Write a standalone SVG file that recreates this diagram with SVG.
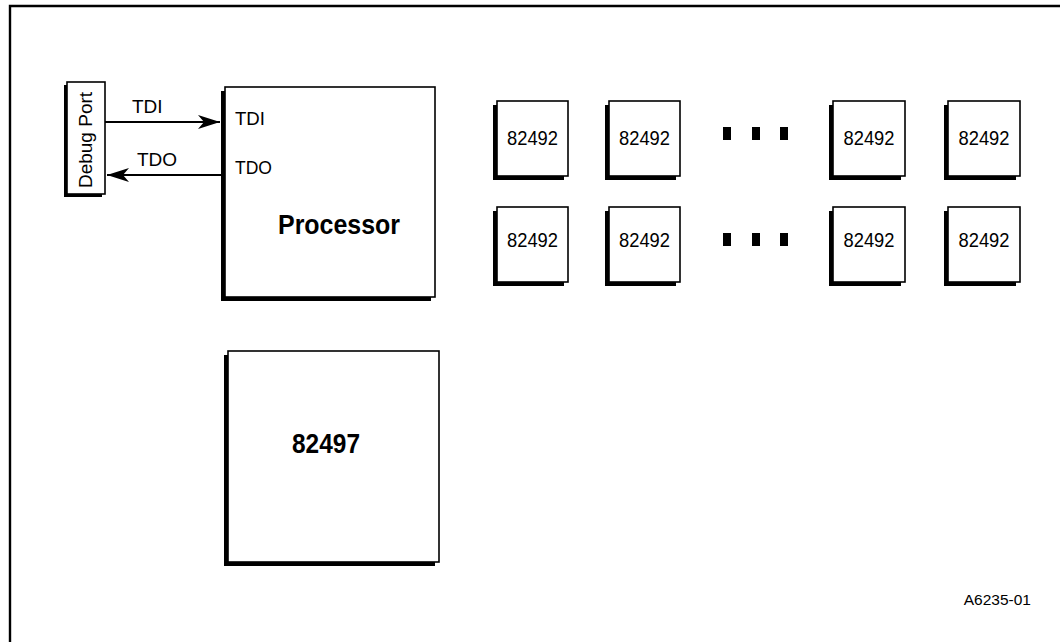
<svg xmlns="http://www.w3.org/2000/svg" width="1060" height="642" viewBox="0 0 1060 642">
<style>
  text { font-family: "Liberation Sans", Arial, sans-serif; fill: #000; }
  .box { fill: #fff; stroke: #000; stroke-width: 1.6; }
  .shadow { fill: #000; }
  .lbl { font-size: 19px; }
  .chip { font-size: 19.5px; text-anchor: middle; }
  .big { font-size: 27px; font-weight: bold; text-anchor: middle; }
  .wire { stroke: #000; stroke-width: 2; fill: none; }
  .dot { fill: #000; }
</style>
<defs>
  <marker id="arr" markerUnits="userSpaceOnUse" markerWidth="24" markerHeight="14" refX="22" refY="7" orient="auto">
    <path d="M0,0 L22,7 L0,14 L6,7 z" fill="#000"/>
  </marker>
</defs>
<path d="M10,642 V6 H1060" fill="none" stroke="#000" stroke-width="2.4"/>

<g id="debug-port">
  <rect class="shadow" x="64" y="85" width="38" height="112"/>
  <rect class="box" x="67" y="82" width="38" height="112"/>
  <text class="lbl" transform="translate(91.5,140) rotate(-90)" text-anchor="middle">Debug Port</text>
</g>

<g id="processor">
  <rect class="shadow" x="221" y="91" width="210" height="210"/>
  <rect class="box" x="225" y="87" width="210" height="210"/>
  <text class="lbl" x="235" y="125" textLength="30" lengthAdjust="spacingAndGlyphs">TDI</text>
  <text class="lbl" x="235" y="174" textLength="37" lengthAdjust="spacingAndGlyphs">TDO</text>
  <text class="big" x="339" y="234" textLength="122" lengthAdjust="spacingAndGlyphs">Processor</text>
</g>

<g id="chip-82497">
  <rect class="shadow" x="224" y="355" width="211" height="211"/>
  <rect class="box" x="228" y="351" width="211" height="211"/>
  <text class="big" x="326" y="453" font-size="26" textLength="68" lengthAdjust="spacingAndGlyphs">82497</text>
</g>

<g id="chip-r1c1">
  <rect class="shadow" x="493" y="105" width="71" height="75"/>
  <rect class="box" x="497" y="101" width="71" height="75"/>
  <text class="chip" x="532.5" y="145" textLength="51" lengthAdjust="spacingAndGlyphs">82492</text>
</g>
<g id="chip-r1c2">
  <rect class="shadow" x="605" y="105" width="71" height="75"/>
  <rect class="box" x="609" y="101" width="71" height="75"/>
  <text class="chip" x="644.5" y="145" textLength="51" lengthAdjust="spacingAndGlyphs">82492</text>
</g>
<g id="chip-r1c3">
  <rect class="shadow" x="829" y="105" width="72" height="75"/>
  <rect class="box" x="833" y="101" width="72" height="75"/>
  <text class="chip" x="869" y="145" textLength="51" lengthAdjust="spacingAndGlyphs">82492</text>
</g>
<g id="chip-r1c4">
  <rect class="shadow" x="944" y="105" width="72" height="75"/>
  <rect class="box" x="948" y="101" width="72" height="75"/>
  <text class="chip" x="984" y="145" textLength="51" lengthAdjust="spacingAndGlyphs">82492</text>
</g>
<g id="chip-r2c1">
  <rect class="shadow" x="493" y="211" width="71" height="75"/>
  <rect class="box" x="497" y="207" width="71" height="75"/>
  <text class="chip" x="532.5" y="247" textLength="51" lengthAdjust="spacingAndGlyphs">82492</text>
</g>
<g id="chip-r2c2">
  <rect class="shadow" x="605" y="211" width="71" height="75"/>
  <rect class="box" x="609" y="207" width="71" height="75"/>
  <text class="chip" x="644.5" y="247" textLength="51" lengthAdjust="spacingAndGlyphs">82492</text>
</g>
<g id="chip-r2c3">
  <rect class="shadow" x="829" y="211" width="72" height="75"/>
  <rect class="box" x="833" y="207" width="72" height="75"/>
  <text class="chip" x="869" y="247" textLength="51" lengthAdjust="spacingAndGlyphs">82492</text>
</g>
<g id="chip-r2c4">
  <rect class="shadow" x="944" y="211" width="72" height="75"/>
  <rect class="box" x="948" y="207" width="72" height="75"/>
  <text class="chip" x="984" y="247" textLength="51" lengthAdjust="spacingAndGlyphs">82492</text>
</g>

<g id="ellipsis-row1">
  <rect class="dot" x="723" y="127" width="8" height="13"/>
  <rect class="dot" x="752" y="127" width="8" height="13"/>
  <rect class="dot" x="780" y="127" width="8" height="13"/>
</g>
<g id="ellipsis-row2">
  <rect class="dot" x="723" y="233" width="8" height="13"/>
  <rect class="dot" x="752" y="233" width="8" height="13"/>
  <rect class="dot" x="780" y="233" width="8" height="13"/>
</g>

<g id="connectors">
  <line class="wire" x1="105" y1="122" x2="220" y2="122" marker-end="url(#arr)"/>
  <text class="lbl" x="132" y="113">TDI</text>
  <line class="wire" x1="222" y1="175" x2="107" y2="175" marker-end="url(#arr)"/>
  <text class="lbl" x="137" y="166">TDO</text>
</g>

<text x="1031" y="605" font-size="15.5" text-anchor="end">A6235-01</text>
</svg>
